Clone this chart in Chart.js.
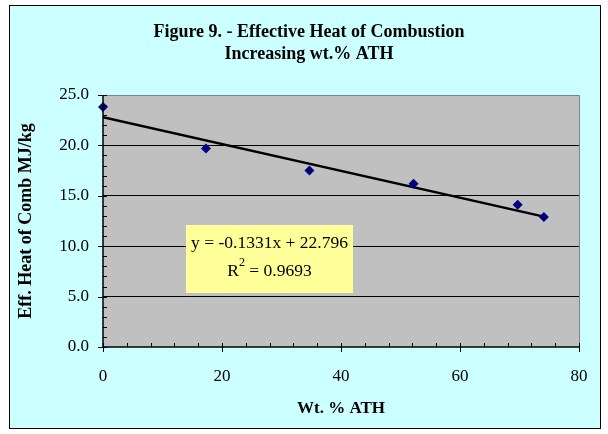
<!DOCTYPE html>
<html><head><meta charset="utf-8">
<script src="https://cdn.jsdelivr.net/npm/chart.js@4"></script>
<style>html,body{margin:0;padding:0;background:#fff}canvas{display:block}</style>
</head><body>
<canvas id="c" width="608" height="434"></canvas>
<script>
// Measured effective heat of combustion vs. ATH loading
const athPct = [0, 17.3, 34.7, 52.2, 69.7, 74.1];
const heatComb = [23.8, 19.7, 17.5, 16.2, 14.1, 12.9];
// Linear trendline parameters, as printed in the label
const fitSlope = -0.1331;
const fitIntercept = 22.796;
const fitR2 = 0.9693;
const xTicks = [0, 20, 40, 60, 80];
const yTicks = [0, 5, 10, 15, 20, 25];
const titleLines = ['Figure 9. - Effective Heat of Combustion', 'Increasing wt.% ATH'];

const SERIF = '"Liberation Serif", "Times New Roman", serif';

const scatterPts = athPct.map((x, i) => ({ x, y: heatComb[i] }));
const xFitEnd = Math.max(...athPct);
const fitPts = [0, xFitEnd].map(x => ({ x, y: fitSlope * x + fitIntercept }));

const framePlugin = {
  id: 'frame',
  beforeDraw(chart) {
    const { ctx, chartArea: a } = chart;
    ctx.save();
    ctx.fillStyle = '#ffffff';
    ctx.fillRect(0, 0, chart.width, chart.height);
    ctx.fillStyle = '#ccffff';
    ctx.fillRect(9, 5, 591, 423);
    ctx.strokeStyle = '#000';
    ctx.lineWidth = 1;
    ctx.strokeRect(9.5, 5.5, 591, 423);
    ctx.fillStyle = '#c0c0c0';
    ctx.fillRect(a.left, a.top, a.right - a.left, a.bottom - a.top);
    // chart title
    ctx.fillStyle = '#000';
    ctx.font = 'bold 18px ' + SERIF;
    ctx.textAlign = 'center';
    ctx.textBaseline = 'middle';
    ctx.fillText(titleLines[0], 309, 32);
    ctx.fillText(titleLines[1], 309, 54);
    ctx.restore();
  },
  afterDraw(chart) {
    const { ctx, chartArea: a, scales: { x, y } } = chart;
    ctx.save();
    // plot border (top / right)
    ctx.strokeStyle = '#808080';
    ctx.lineWidth = 1;
    ctx.beginPath();
    ctx.moveTo(a.left, a.top + 0.5); ctx.lineTo(a.right + 0.5, a.top + 0.5);
    ctx.lineTo(a.right + 0.5, a.bottom);
    ctx.stroke();
    // axes
    ctx.strokeStyle = '#000';
    ctx.lineWidth = 1.5;
    ctx.beginPath();
    ctx.moveTo(a.left, a.top); ctx.lineTo(a.left, a.bottom);
    ctx.lineTo(a.right, a.bottom);
    ctx.stroke();
    ctx.lineWidth = 1;
    ctx.beginPath();
    // y major (cross) and minor (inside) ticks
    for (let v = 0; v <= 25; v += 1) {
      const py = Math.round(y.getPixelForValue(v)) + 0.5;
      if (v % 5 === 0) { ctx.moveTo(a.left - 5, py); ctx.lineTo(a.left + 4, py); }
      else { ctx.moveTo(a.left, py); ctx.lineTo(a.left + 4, py); }
    }
    // x major (cross) and minor (inside) ticks
    for (let v = 0; v <= 80; v += 4) {
      const px = Math.round(x.getPixelForValue(v)) + 0.5;
      if (v % 20 === 0) { ctx.moveTo(px, a.bottom - 4); ctx.lineTo(px, a.bottom + 5); }
      else { ctx.moveTo(px, a.bottom - 4); ctx.lineTo(px, a.bottom); }
    }
    ctx.stroke();

    // trendline equation label
    const bx = 186, by = 225, bw = 167, bh = 68;
    ctx.fillStyle = '#ffff99';
    ctx.fillRect(bx, by, bw, bh);
    ctx.fillStyle = '#000';
    ctx.font = '17.5px ' + SERIF;
    ctx.textBaseline = 'middle';
    ctx.textAlign = 'center';
    const cx = bx + bw / 2;
    const eq = 'y = ' + fitSlope.toFixed(4) + 'x + ' + fitIntercept.toFixed(3);
    ctx.fillText(eq, cx, by + 18);
    const left = 'R', right = ' = ' + fitR2.toFixed(4);
    const wL = ctx.measureText(left).width, wR = ctx.measureText(right).width;
    ctx.font = '12px ' + SERIF;
    const wS = ctx.measureText('2').width;
    const sx = cx - (wL + wS + wR) / 2;
    ctx.textAlign = 'left';
    ctx.font = '17.5px ' + SERIF;
    ctx.fillText(left, sx, by + 46);
    ctx.font = '12px ' + SERIF;
    ctx.fillText('2', sx + wL, by + 38);
    ctx.font = '17.5px ' + SERIF;
    ctx.fillText(right, sx + wL + wS, by + 46);
    ctx.restore();
  }
};

new Chart(document.getElementById('c'), {
  type: 'scatter',
  data: {
    datasets: [
      {
        label: 'Eff. Heat of Comb',
        data: scatterPts,
        pointStyle: 'rectRot',
        pointRadius: 5,
        pointBackgroundColor: '#000080',
        pointBorderColor: '#000080',
        borderWidth: 0,
        clip: false,
        order: 1
      },
      {
        type: 'line',
        label: 'Linear fit',
        data: fitPts,
        borderColor: '#000',
        borderWidth: 2.5,
        pointRadius: 0,
        fill: false,
        order: 2
      }
    ]
  },
  options: {
    responsive: false,
    animation: false,
    devicePixelRatio: 1,
    layout: { padding: { top: 95, right: 29, bottom: 0, left: 0 } },
    plugins: { legend: { display: false }, tooltip: { enabled: false } },
    scales: {
      x: {
        type: 'linear', min: 0, max: 80,
        afterFit(s) { s.height = 87; },
        afterBuildTicks(s) { s.ticks = xTicks.map(v => ({ value: v })); },
        grid: { display: false, drawTicks: false },
        border: { display: false },
        ticks: { padding: 19, color: '#000', font: { family: SERIF, size: 17 } },
        title: { display: true, text: 'Wt. % ATH', color: '#000',
          font: { family: SERIF, size: 17, weight: 'bold' }, padding: { top: 0, bottom: 15 } }
      },
      y: {
        type: 'linear', min: 0, max: 25,
        afterFit(s) { s.width = 103; },
        afterBuildTicks(s) { s.ticks = yTicks.map(v => ({ value: v })); },
        grid: {
          drawTicks: false,
          color: ctx => (ctx.tick && (ctx.tick.value === 0 || ctx.tick.value === 25)) ? 'rgba(0,0,0,0)' : '#000',
          lineWidth: 1
        },
        border: { display: false },
        ticks: { padding: 14, color: '#000', font: { family: SERIF, size: 17 },
          callback: v => Number(v).toFixed(1) },
        title: { display: true, text: 'Eff. Heat of Comb MJ/kg', color: '#000',
          font: { family: SERIF, size: 18, weight: 'bold' }, padding: { top: 16, bottom: 0 } }
      }
    }
  },
  plugins: [framePlugin]
});
</script>
</body></html>
